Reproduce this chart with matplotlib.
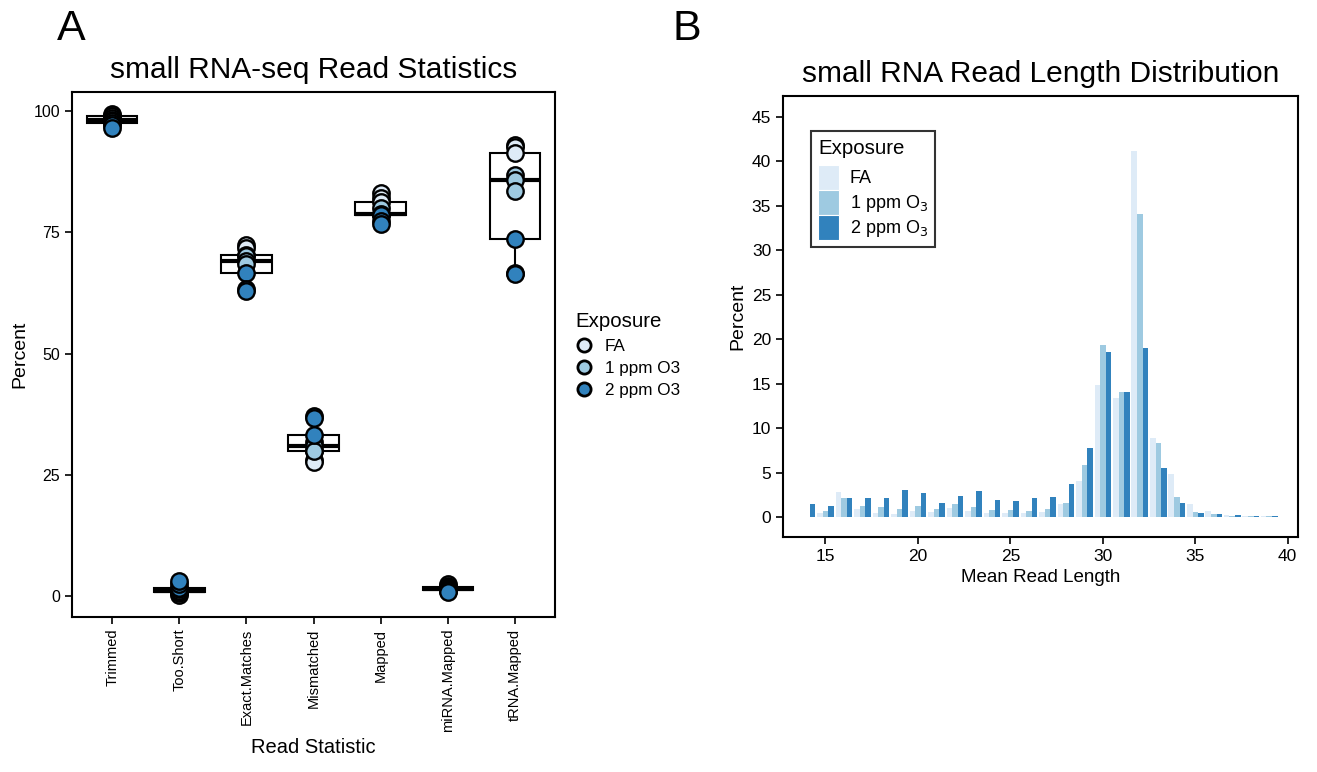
import numpy as np
import matplotlib
matplotlib.use('Agg')
import matplotlib.pyplot as plt
from matplotlib.lines import Line2D

plt.rcParams['font.family'] = ['Liberation Sans', 'DejaVu Sans']

# Панель A: статистика ридів (по 3 зразки на групу)
stats = ['Trimmed', 'Too.Short', 'Exact.Matches', 'Mismatched', 'Mapped', 'miRNA.Mapped', 'tRNA.Mapped']
groups = ['FA', '1 ppm O3', '2 ppm O3']
fa_vals = [[99.3, 99.0, 98.9], [0.3, 0.6, 0.9], [72.4, 71.7, 70.3], [30.0, 28.0, 27.6],
           [83.0, 82.0, 81.3], [2.5, 2.0, 1.8], [93.0, 92.6, 91.4]]
ppm1_vals = [[98.5, 98.2, 97.9], [1.0, 1.1, 1.4], [70.1, 69.1, 68.5], [31.7, 31.0, 29.9],
             [80.0, 78.7, 78.6], [1.6, 1.5, 1.4], [86.7, 85.7, 83.5]]
ppm2_vals = [[97.5, 97.0, 96.5], [1.7, 2.6, 3.2], [66.6, 63.2, 62.8], [37.2, 36.8, 33.3],
             [78.5, 77.4, 76.6], [1.2, 1.0, 0.8], [73.7, 66.6, 66.4]]

# Панель B: розподіл довжин ридів
read_len = list(range(14, 41))
fa_len = [0, 0.41, 2.77, 0.86, 0.41, 0.3, 0.64, 0.52, 0.97, 0.64, 0.41, 0.41, 0.41, 0.52, 1.42,
          4.0, 14.8, 13.4, 41.1, 8.84, 4.8, 1.42, 0.64, 0.19, 0.08, 0.08, 0.05]
ppm1_len = [0, 0.64, 2.1, 1.2, 1.09, 0.86, 1.2, 0.86, 1.42, 1.09, 0.75, 0.75, 0.64, 0.86, 1.54,
            5.8, 19.3, 14.1, 34.1, 8.28, 2.2, 0.52, 0.3, 0.08, 0.08, 0.08, 0]
ppm2_len = [1.42, 1.2, 2.1, 2.1, 2.1, 3.0, 2.66, 1.54, 2.32, 2.88, 1.87, 1.76, 2.1, 2.2, 3.67,
            7.7, 18.6, 14.1, 18.95, 5.47, 1.54, 0.41, 0.3, 0.19, 0.08, 0.08, 0]

colors = ['#deebf7', '#9ecae1', '#3182bd']

fig = plt.figure(figsize=(13.17, 7.72), dpi=100)
fig.patch.set_facecolor('white')

# ---------- A ----------
ax1 = fig.add_axes([0.0547, 0.2008, 0.3667, 0.680])
pos = np.arange(1, len(stats) + 1)
all_vals = [fa_vals[i] + ppm1_vals[i] + ppm2_vals[i] for i in range(len(stats))]
ax1.boxplot(all_vals, positions=pos, widths=0.75, showfliers=False, patch_artist=True,
            boxprops=dict(facecolor='white', edgecolor='black', linewidth=1.5),
            whiskerprops=dict(color='black', linewidth=1.5),
            capprops=dict(linewidth=0),
            medianprops=dict(color='black', linewidth=3))
for vals, col in zip([fa_vals, ppm1_vals, ppm2_vals], colors):
    for i in range(len(stats)):
        ax1.scatter([pos[i]] * len(vals[i]), vals[i], s=140, color=col, edgecolor='black',
                    linewidth=1.7, zorder=3)

ax1.set_xlim(0.4, 7.6)
ax1.set_ylim(-4.3, 103.9)
ax1.set_yticks([0, 25, 50, 75, 100])
ax1.set_xticks(pos)
ax1.set_xticklabels(stats, rotation=90, fontsize=10.5)
ax1.tick_params(axis='y', labelsize=11.5)
ax1.tick_params(direction='out', length=5, width=1.2)
for sp in ax1.spines.values():
    sp.set_linewidth(1.5)
ax1.set_xlabel('Read Statistic', fontsize=14.5)
ax1.set_ylabel('Percent', fontsize=14)
ax1.set_title('small RNA-seq Read Statistics', fontsize=21.5, pad=10)

handles_a = [Line2D([], [], marker='o', linestyle='', markersize=9.5, markerfacecolor=c,
                    markeredgecolor='black', markeredgewidth=2) for c in colors]
leg_a = ax1.legend(handles_a, groups, title='Exposure', loc='center left',
                   bbox_to_anchor=(1.01, 0.50), frameon=False, fontsize=12.3,
                   title_fontsize=14.7, handletextpad=0.75, labelspacing=0.4,
                   handlelength=1.0)
leg_a._legend_box.align = 'left'
leg_a._legend_box.sep = 6

# ---------- B ----------
ax2 = fig.add_axes([0.5945, 0.3044, 0.391, 0.571])
x = np.array(read_len)
w = 0.3
ax2.bar(x - w, fa_len, width=w, color=colors[0], label='FA')
ax2.bar(x, ppm1_len, width=w, color=colors[1], label='1 ppm O$_3$')
ax2.bar(x + w, ppm2_len, width=w, color=colors[2], label='2 ppm O$_3$')
ax2.set_xlim(12.7, 40.55)
ax2.set_ylim(-2.25, 47.3)
ax2.set_yticks(range(0, 46, 5))
ax2.set_xticks([15, 20, 25, 30, 35, 40])
ax2.tick_params(labelsize=12.5)
ax2.tick_params(direction='out', length=5, width=1.2)
for sp in ax2.spines.values():
    sp.set_linewidth(1.5)
ax2.set_xlabel('Mean Read Length', fontsize=13.5)
ax2.set_ylabel('Percent', fontsize=14)
ax2.set_title('small RNA Read Length Distribution', fontsize=21.5, pad=10)
leg_b = ax2.legend(title='Exposure', loc='upper left', bbox_to_anchor=(0.054, 0.92),
                   borderaxespad=0, fontsize=13, title_fontsize=14.7, handlelength=1.15,
                   handleheight=1.75, handletextpad=0.6, labelspacing=0.0, fancybox=False,
                   edgecolor='black', borderpad=0.4)
leg_b.get_frame().set_linewidth(1.5)
leg_b._legend_box.align = 'left'
leg_b._legend_box.sep = 5
for p in leg_b.get_patches():
    p.set_edgecolor('white')
    p.set_linewidth(0.8)

fig.text(0.043, 0.948, 'A', fontsize=31)
fig.text(0.511, 0.948, 'B', fontsize=31)

fig.savefig('out.png', dpi=100)
